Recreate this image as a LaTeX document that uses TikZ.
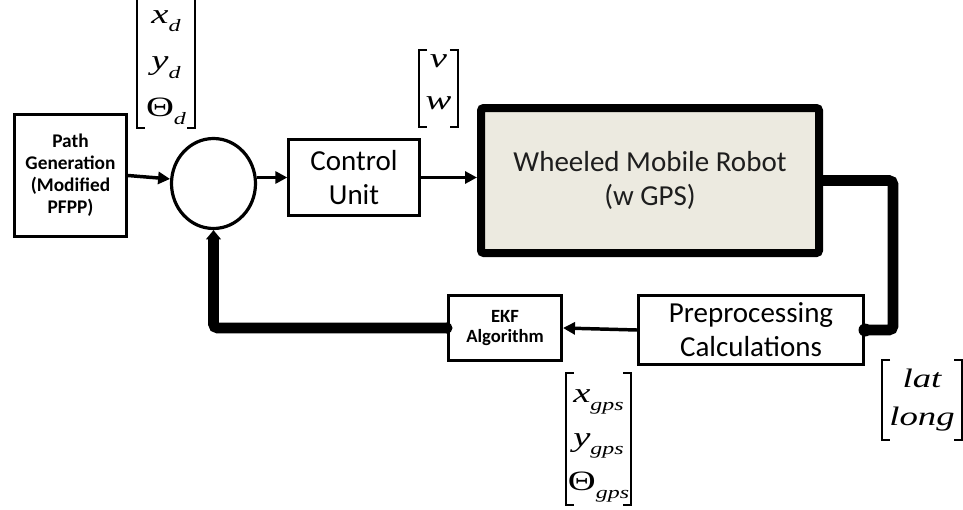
\documentclass[tikz,border=0pt]{standalone}
\usepackage{fontspec}
\setmainfont{Carlito}
\newfontfamily\timesf[FakeStretch=1.38]{Liberation Serif}
\usetikzlibrary{arrows.meta,shapes.geometric}
\definecolor{robotfill}{RGB}{236,234,224}
\definecolor{robottext}{RGB}{30,30,30}
% subscript set below the baseline of a vector entry
\newcommand\vsub[2]{#1\raisebox{-0.3em}{\fontsize{13}{13}\selectfont\itshape #2}}
% square brackets drawn around a vector node
\newcommand\vbrackets[1]{%
  \draw[brk] ([xshift=6pt]#1.north west) -- (#1.north west) -- (#1.south west) -- ([xshift=6pt]#1.south west);
  \draw[brk] ([xshift=-6pt]#1.north east) -- (#1.north east) -- (#1.south east) -- ([xshift=-6pt]#1.south east);}
\begin{document}
\begin{tikzpicture}[x=0.75pt,y=-0.75pt,
  blk/.style={draw, line width=2pt, fill=white, align=center, inner sep=0pt},
  thinarrow/.style={line width=2.6pt, -{Triangle[length=9pt,width=9pt]}},
  fatline/.style={line width=8pt, rounded corners=3pt},
  brk/.style={line width=1.5pt},
  vecn/.style={align=center, inner sep=0pt, outer sep=0pt, font=\timesf\fontsize{21}{35}\selectfont}]
\useasboundingbox (0,0) rectangle (963,510);

% blocks
\node[blk, minimum width=84pt, minimum height=91.5pt,
      font=\fontsize{14.5}{16.5}\selectfont\bfseries] (pg) at (70.5,175.5)
      {Path\\Generation\\(Modified\\PFPP)};
\node[draw, ellipse, line width=2.4pt, minimum width=63pt, minimum height=67.5pt,
      inner sep=0pt] (sum) at (213.5,183.5) {};
\node[blk, minimum width=98pt, minimum height=57pt,
      font=\fontsize{21.75}{25.5}\selectfont] (cu) at (354,177.5) {Control\\Unit};
\node[draw, line width=6pt, rounded corners=2pt, fill=robotfill, text=robottext,
      align=center, inner sep=0pt, minimum width=253.5pt, minimum height=108.75pt,
      font=\fontsize{21.75}{26}\selectfont] (robot) at (650,180.5)
      {Wheeled Mobile Robot\\(w GPS)};
\node[blk, minimum width=169pt, minimum height=52pt,
      font=\fontsize{21.75}{25.5}\selectfont] (pp) at (751,330)
      {Preprocessing\\Calculations};
\node[blk, minimum width=85pt, minimum height=49pt,
      font=\fontsize{14}{15}\selectfont\bfseries] (ekf) at (505,328)
      {EKF\\Algorithm};

% signal vectors
\node[vecn, minimum width=43.5pt, minimum height=99pt] (xd) at (166,61.5)
  {\rule{0pt}{19pt}\vsub{\itshape x}{d}\\\vsub{\itshape y}{d}\\\vsub{Θ}{d}};
\node[vecn, minimum width=29pt, minimum height=58pt,
      font=\timesf\fontsize{21}{31.5}\selectfont] (vw) at (438.5,88.5)
  {\itshape v\\\itshape w\rule[-9pt]{0pt}{0pt}};
\node[vecn, minimum width=49pt, minimum height=99pt,
      font=\timesf\fontsize{21}{33}\selectfont] (xg) at (598.5,439)
  {\rule{0pt}{20pt}\vsub{\itshape x}{gps}\\\vsub{\itshape y}{gps}\\\vsub{Θ}{gps}};
\node[vecn, minimum width=60pt, minimum height=60pt,
      font=\timesf\fontsize{20}{29}\selectfont\itshape] (ll) at (922,400)
  {lat\\long};
\vbrackets{xd}
\vbrackets{vw}
\vbrackets{xg}
\vbrackets{ll}

% forward path
\draw[thinarrow] (pg.east) -- (sum.174);
\draw[thinarrow] (sum.east |- cu.west) -- (cu.west);
\draw[thinarrow] (cu.east) -- (cu.east -| robot.west);

% measurement and feedback path
\coordinate (turn) at (893,180.5);
\draw[fatline] (robot.east) -- (turn) -- (turn |- pp.east) -- (pp.east);
\fill (pp.east) circle (6.5);
\draw[thinarrow] (pp.west) -- (ekf.east);
\draw[fatline, -{Triangle[length=7pt,width=11pt]}] (ekf.west) -- (ekf.west -| sum.south) -- (sum.south);
\fill (ekf.west) circle (5.5);
\end{tikzpicture}
\end{document}
